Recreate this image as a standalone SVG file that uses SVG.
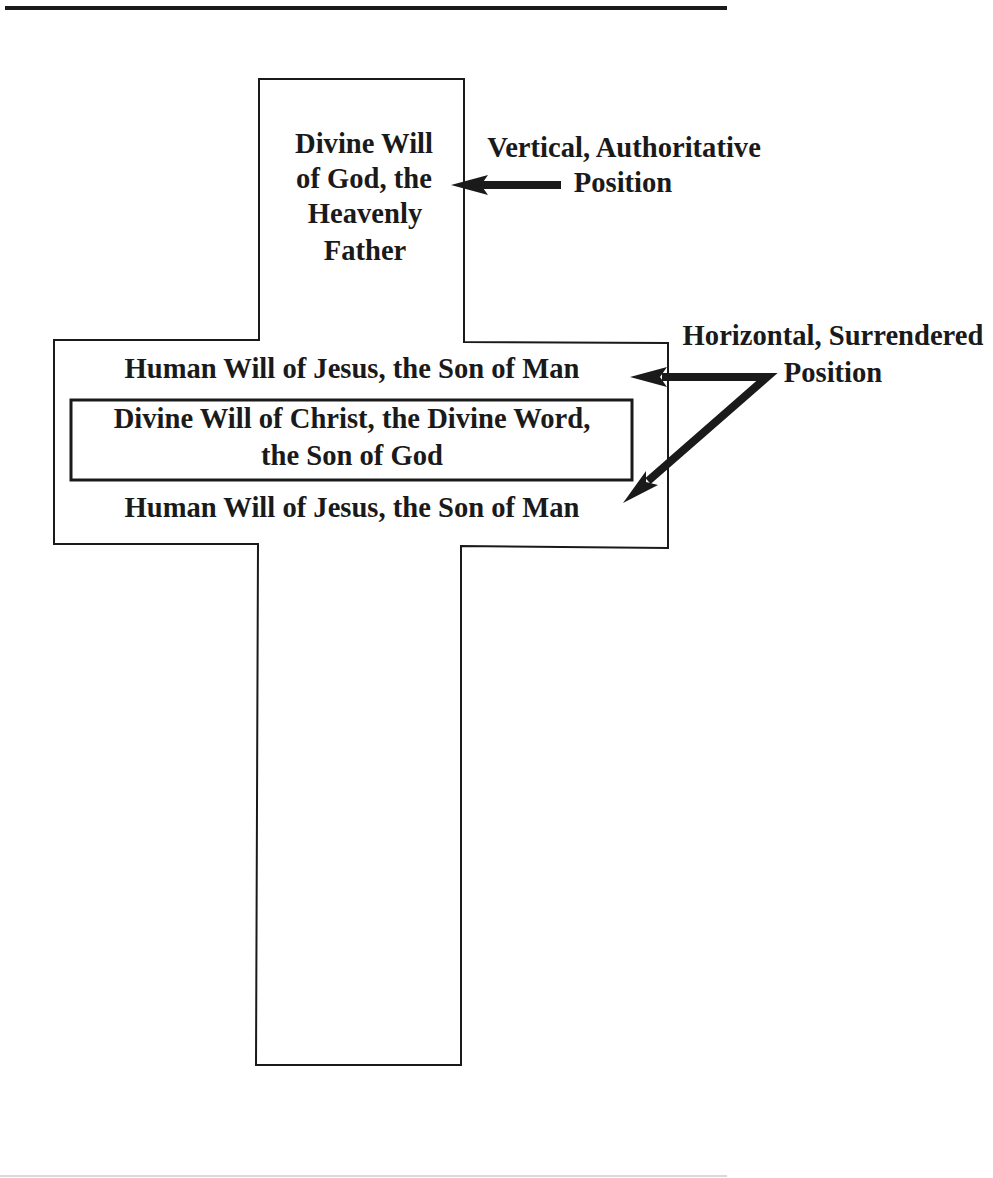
<svg xmlns="http://www.w3.org/2000/svg" width="993" height="1178" viewBox="0 0 993 1178">
<defs>
<style>
.t{font-family:"Liberation Serif","Times New Roman",serif;font-weight:bold;font-size:28.6px;fill:#1a1a1a;text-anchor:middle}
.ln{fill:none;stroke:#1a1a1a;stroke-width:2}
.ar{fill:none;stroke:#1a1a1a;stroke-width:8}
.hd{fill:#1a1a1a}
</style>
</defs>
<rect width="993" height="1178" fill="#fff"/>
<line x1="5" y1="8" x2="727" y2="8" stroke="#1a1a1a" stroke-width="4"/>
<line x1="0" y1="1176" x2="727" y2="1176" stroke="#ccc" stroke-width="1.5"/>
<g id="cross">
<path class="ln" d="M259,79 L464,79 L464,342 L668,343 L668,548 L461,546 L461,1065 L256,1065 L258,544 L54,544 L54,340 L259,340 Z"/>
</g>
<g id="node-father">
<text class="t" x="364" y="153">Divine Will</text>
<text class="t" x="364" y="188">of God, the</text>
<text class="t" x="365" y="223">Heavenly</text>
<text class="t" x="365" y="260">Father</text>
</g>
<g id="node-human-top">
<text class="t" x="352" y="378">Human Will of Jesus, the Son of Man</text>
</g>
<g id="node-christ">
<rect x="71" y="400" width="561" height="80" fill="none" stroke="#1a1a1a" stroke-width="3"/>
<text class="t" x="352" y="428">Divine Will of Christ, the Divine Word,</text>
<text class="t" x="352" y="465">the Son of God</text>
</g>
<g id="node-human-bottom">
<text class="t" x="352" y="517">Human Will of Jesus, the Son of Man</text>
</g>
<g id="label-vertical">
<text class="t" x="624" y="157">Vertical, Authoritative</text>
<text class="t" x="623" y="192">Position</text>
</g>
<g id="label-horizontal">
<text class="t" x="833" y="345">Horizontal, Surrendered</text>
<text class="t" x="833" y="382">Position</text>
</g>
<g id="connectors">
<line class="ar" x1="561" y1="185" x2="480" y2="185"/>
<polygon class="hd" points="451,185 488,175 481,185 488,195"/>
<polyline class="ar" points="662,377 767,377 648,481" stroke-linejoin="miter"/>
<polygon class="hd" points="630,377 667,367 660,377 667,387"/>
<polygon class="hd" points="623,503 646,471 646,482 658,485"/>
</g>
</svg>
